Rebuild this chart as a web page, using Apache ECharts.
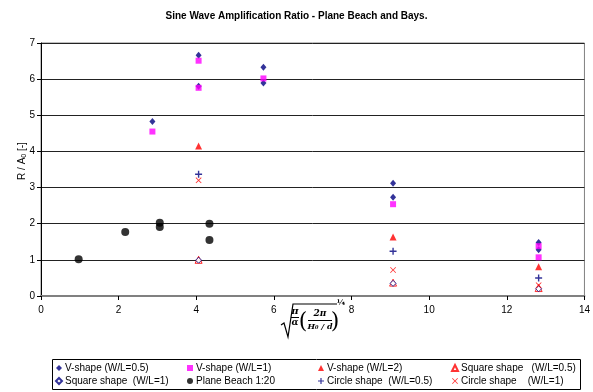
<!DOCTYPE html>
<html>
<head>
<meta charset="utf-8">
<script src="https://cdn.jsdelivr.net/npm/echarts@6/dist/echarts.min.js"></script>
<style>
  html, body { margin: 0; padding: 0; background: #fff; }
  #chart { width: 593px; height: 392px; }
</style>
</head>
<body>
<div id="chart"></div>
<script>
// values, [x, R/A0]
const vShape05 = [[2.87, 4.83], [4.06, 6.66], [4.06, 5.8], [5.73, 6.33], [5.73, 5.89], [9.07, 3.12], [9.07, 2.73], [12.82, 1.48], [12.82, 1.28]];
const vShape1 = [[2.87, 4.55], [4.06, 6.51], [4.06, 5.76], [5.73, 6.02], [9.07, 2.54], [12.82, 1.38], [12.82, 1.07]];
const vShape2 = [[4.06, 4.15], [4.06, 1.02], [9.07, 1.63], [12.82, 0.81]];
const square05 = [[4.06, 1.0], [9.07, 0.37], [12.82, 0.22]];
const square1 = [[4.06, 0.99], [9.07, 0.35], [12.82, 0.2]];
const planeBeach = [[0.97, 1.02], [2.17, 1.77], [3.06, 2.03], [3.06, 1.91], [4.34, 2.0], [4.34, 1.55]];
const circle05 = [[4.06, 3.37], [9.07, 1.24], [12.82, 0.5]];
const circle1 = [[4.06, 3.2], [9.07, 0.72], [12.82, 0.3]];

const seriesNames = [
  "V-shape (W/L=0.5)", "V-shape (W/L=1)", "V-shape (W/L=2)", "Square shape   (W/L=0.5)",
  "Square shape  (W/L=1)", "Plane Beach 1:20", "Circle shape  (W/L=0.5)", "Circle shape    (W/L=1)"
];

const PLUS = "path://M4,0H6V4H10V6H6V10H4V6H0V4H4Z";
const CROSS = "path://M0,1L1,0L5,4L9,0L10,1L6,5L10,9L9,10L5,6L1,10L0,9L4,5Z";
const FONT = "Liberation Sans, Arial";

const chart = echarts.init(document.getElementById("chart"));

const legendCol = (left, names) => ({
  orient: "vertical",
  left: left,
  top: 363,
  itemGap: 3,
  itemWidth: 6,
  itemHeight: 6,
  padding: 0,
  textStyle: { fontFamily: FONT, fontSize: 10, color: "#000", padding: [0, 0, 0, -2] },
  data: names
});

chart.setOption({
  animation: false,
  title: {
    text: "Sine Wave Amplification Ratio - Plane Beach and Bays.",
    left: "center",
    top: 6,
    textStyle: { fontFamily: FONT, fontSize: 10, fontWeight: "bold", color: "#000" }
  },
  legend: [
    legendCol(55, [seriesNames[0], seriesNames[4]]),
    legendCol(187, [seriesNames[1], seriesNames[5]]),
    legendCol(318, [seriesNames[2], seriesNames[6]]),
    legendCol(451, [seriesNames[3], seriesNames[7]])
  ],
  grid: {
    left: 41, right: 8, top: 43, bottom: 96,
    show: true, borderColor: "#808080", borderWidth: 1
  },
  xAxis: {
    type: "value", min: 0, max: 14, interval: 2,
    axisLine: { onZero: false, lineStyle: { color: "#808080", width: 2 } },
    axisTick: { show: true, inside: false, length: 4, lineStyle: { color: "#000" } },
    axisLabel: { margin: 9, fontFamily: FONT, fontSize: 10, color: "#000" },
    splitLine: { show: false }
  },
  yAxis: {
    type: "value", min: 0, max: 7, interval: 1,
    axisLine: { show: true, lineStyle: { color: "#000", width: 1 } },
    axisTick: { show: true, length: 4, lineStyle: { color: "#000" } },
    axisLabel: { margin: 6, fontFamily: FONT, fontSize: 10, color: "#000" },
    splitLine: { show: true, lineStyle: { color: "#222", width: 1 } }
  },
  graphic: [
    { type: "rect", shape: { x: 52.5, y: 359.5, width: 528, height: 30 }, style: { fill: null, stroke: "#000", lineWidth: 1 }, silent: true },
    // y-axis title
    {
      type: "text", x: 22, y: 161, rotation: Math.PI / 2,
      style: {
        text: "R / A{sub|0} [-]", font: "10px " + FONT, fill: "#000", align: "center", verticalAlign: "middle",
        rich: { sub: { fontSize: 7, fontFamily: FONT, verticalAlign: "bottom", padding: [4, 0, 0, 0] } }
      }
    },
    // x-axis title: sqrt( pi/alpha * (2 pi / (H0/d)) )^(1/4)
    { type: "polyline", shape: { points: [[281, 325], [284, 323], [288, 337], [293, 304], [337, 304]] }, style: { stroke: "#000", lineWidth: 1.2, fill: null }, silent: true },
    { type: "text", x: 295, y: 311, style: { text: "π", font: "bold italic 10px 'DejaVu Serif'", fill: "#000", align: "center", verticalAlign: "middle" } },
    { type: "line", shape: { x1: 291, y1: 317.5, x2: 299, y2: 317.5 }, style: { stroke: "#000", lineWidth: 1 } },
    { type: "text", x: 295, y: 323, style: { text: "α", font: "bold italic 9px 'DejaVu Serif'", fill: "#000", align: "center", verticalAlign: "middle" } },
    { type: "text", x: 303, y: 322, style: { text: "(", font: "22px 'DejaVu Serif'", fill: "#000", align: "center", verticalAlign: "middle" } },
    { type: "text", x: 320, y: 314, style: { text: "2π", font: "bold italic 9px 'DejaVu Serif'", fill: "#000", align: "center", verticalAlign: "middle" } },
    { type: "line", shape: { x1: 308, y1: 320.5, x2: 332, y2: 320.5 }, style: { stroke: "#000", lineWidth: 1 } },
    { type: "text", x: 320, y: 327, style: { text: "H₀ / d", font: "bold italic 8px 'DejaVu Serif'", fill: "#000", align: "center", verticalAlign: "middle" } },
    { type: "text", x: 335, y: 322, style: { text: ")", font: "22px 'DejaVu Serif'", fill: "#000", align: "center", verticalAlign: "middle" } },
    { type: "text", x: 341, y: 303, style: { text: "¼", font: "bold 8px 'DejaVu Serif'", fill: "#000", align: "center", verticalAlign: "middle" } }
  ],
  series: [
    { name: seriesNames[0], type: "scatter", data: vShape05, symbol: "diamond", symbolSize: [6, 7], itemStyle: { color: "#000080" } },
    { name: seriesNames[1], type: "scatter", data: vShape1, symbol: "rect", symbolSize: 6, itemStyle: { color: "#FF00FF" } },
    { name: seriesNames[2], type: "scatter", data: vShape2, symbol: "triangle", symbolSize: 7, itemStyle: { color: "#FF0000" } },
    { name: seriesNames[3], type: "scatter", data: square05, symbol: "triangle", symbolSize: 7, itemStyle: { color: "#fff", borderColor: "#FF0000", borderWidth: 1 } },
    { name: seriesNames[4], type: "scatter", data: square1, symbol: "diamond", symbolSize: 6, itemStyle: { color: "#fff", borderColor: "#000080", borderWidth: 1 } },
    { name: seriesNames[5], type: "scatter", data: planeBeach, symbol: "circle", symbolSize: 8, itemStyle: { color: "#000" } },
    { name: seriesNames[6], type: "scatter", data: circle05, symbol: PLUS, symbolSize: 7, itemStyle: { color: "#000080" } },
    { name: seriesNames[7], type: "scatter", data: circle1, symbol: CROSS, symbolSize: 6, itemStyle: { color: "#FF0000" } }
  ]
});
</script>
</body>
</html>
